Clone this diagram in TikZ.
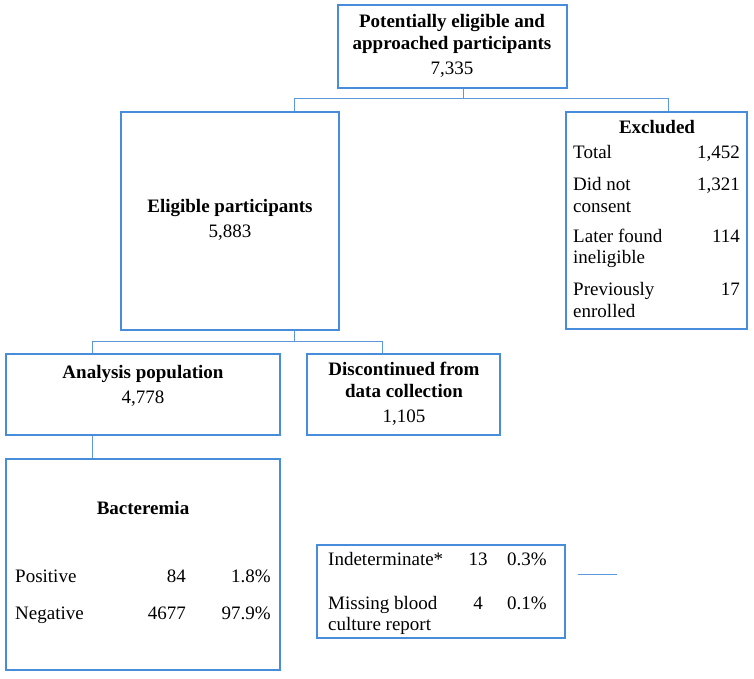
\documentclass[tikz,border=0pt]{standalone}
\usepackage{fontspec}
\setmainfont{Liberation Serif}
\definecolor{boxblue}{RGB}{72,140,220}
\definecolor{lineblue}{RGB}{92,152,222}
\tikzset{
  box/.style={draw=boxblue, line width=2pt, rectangle, inner sep=0pt},
  conn/.style={draw=lineblue, line width=0.9pt},
  txt/.style={inner sep=0pt, font=\fontsize{19}{22}\selectfont},
  btxt/.style={txt, font=\fontsize{19}{22}\selectfont\bfseries},
}
\begin{document}
\begin{tikzpicture}[x=1pt,y=-1pt]
\useasboundingbox (0,0) rectangle (754,678);
% boxes
\node[box, minimum width=229pt, minimum height=83pt] (top) at (452.5,46.5) {};
\node[box, minimum width=218pt, minimum height=218pt] (elig) at (230,221) {};
\node[box, minimum width=181pt, minimum height=217pt] (excl) at (656.5,220.5) {};
\node[box, minimum width=274pt, minimum height=81pt] (anal) at (143,394.5) {};
\node[box, minimum width=193pt, minimum height=81pt] (disc) at (403.5,394.5) {};
\node[box, minimum width=274pt, minimum height=211pt] (bact) at (143,564.5) {};
\node[box, minimum width=248pt, minimum height=93pt] (indet) at (441,591.5) {};
% junction coordinates
\coordinate (j1m) at (463,98);
\coordinate (j1l) at (294,98);
\coordinate (j1r) at (668,98);
\coordinate (j2m) at (294,341);
\coordinate (j2l) at (92,341);
\coordinate (j2r) at (382,341);
\coordinate (j3) at (92,435);
\coordinate (sl) at (578,574);
\coordinate (sr) at (617,574);
% connectors
\draw[conn] (top.south -| j1m) -- (j1m);
\draw[conn] (j1l) -- (j1r);
\draw[conn] (j1l) -- (j1l |- elig.north);
\draw[conn] (j1r) -- (j1r |- excl.north);
\draw[conn] (elig.south -| j2m) -- (j2m);
\draw[conn] (j2l) -- (j2r);
\draw[conn] (j2l) -- (j2l |- anal.north);
\draw[conn] (j2r) -- (j2r |- disc.north);
\draw[conn] (anal.south -| j3) -- (j3 |- bact.north);
\draw[conn] (sl) -- (sr);
% top text
\node[btxt, anchor=base] (t1) at (452,27) {Potentially eligible and};
\node[btxt, anchor=base] (t2) at (452,49) {approached participants};
\node[txt, anchor=base] (t3) at (452,74) {7,335};
% eligible
\node[btxt, anchor=base] (e1) at (230,212) {Eligible participants};
\node[txt, anchor=base] (e2) at (230,237) {5,883};
% excluded
\node[btxt, anchor=base] (x0) at (657,133) {Excluded};
\node[txt, anchor=base west] (x1) at (573,158) {Total};
\node[txt, anchor=base east] (x1n) at (740,158) {1,452};
\node[txt, anchor=base west] (x2) at (573,190) {Did not};
\node[txt, anchor=base west] (x2b) at (573,212) {consent};
\node[txt, anchor=base east] (x2n) at (740,190) {1,321};
\node[txt, anchor=base west] (x3) at (573,242) {Later found};
\node[txt, anchor=base west] (x3b) at (573,263) {ineligible};
\node[txt, anchor=base east] (x3n) at (740,242) {114};
\node[txt, anchor=base west] (x4) at (573,295) {Previously};
\node[txt, anchor=base west] (x4b) at (573,317) {enrolled};
\node[txt, anchor=base east] (x4n) at (740,295) {17};
% analysis
\node[btxt, anchor=base] (a1) at (143,378) {Analysis population};
\node[txt, anchor=base] (a2) at (143,403) {4,778};
% discontinued
\node[btxt, anchor=base] (d1) at (404,375) {Discontinued from};
\node[btxt, anchor=base] (d2) at (404,397) {data collection};
\node[txt, anchor=base] (d3) at (404,422) {1,105};
% bacteremia
\node[btxt, anchor=base] (b0) at (143,514) {Bacteremia};
\node[txt, anchor=base west] (b1) at (15,582) {Positive};
\node[txt, anchor=base east] (b1n) at (186,582) {84};
\node[txt, anchor=base east] (b1p) at (271,582) {1.8\%};
\node[txt, anchor=base west] (b2) at (15,619) {Negative};
\node[txt, anchor=base east] (b2n) at (186,619) {4677};
\node[txt, anchor=base east] (b2p) at (271,619) {97.9\%};
% indeterminate
\node[txt, anchor=base west] (i1) at (328,565) {Indeterminate*};
\node[txt, anchor=base] (i1n) at (478,565) {13};
\node[txt, anchor=base east] (i1p) at (547,565) {0.3\%};
\node[txt, anchor=base west] (i2) at (328,609) {Missing blood};
\node[txt, anchor=base west] (i2b) at (328,630) {culture report};
\node[txt, anchor=base] (i2n) at (478,609) {4};
\node[txt, anchor=base east] (i2p) at (547,609) {0.1\%};
\end{tikzpicture}
\end{document}
